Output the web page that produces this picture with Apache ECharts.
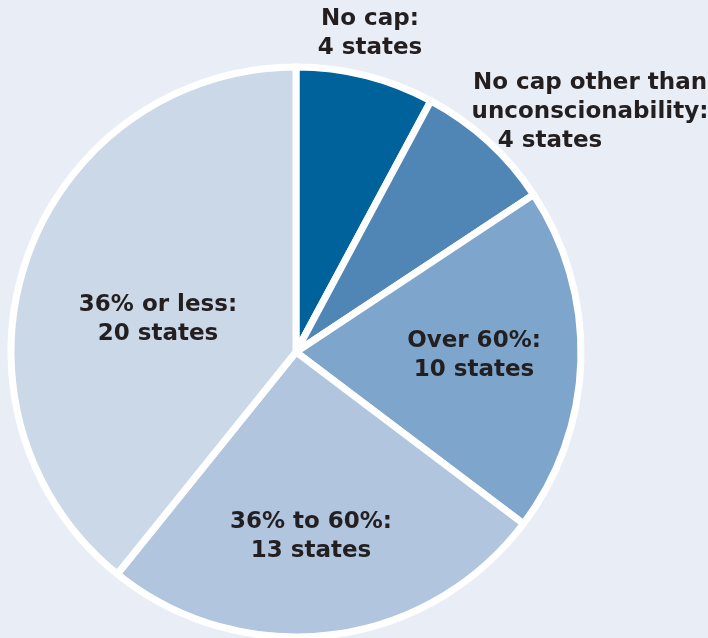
<!DOCTYPE html>
<html>
<head>
<meta charset="utf-8">
<script src="https://cdn.jsdelivr.net/npm/echarts@6/dist/echarts.min.js"></script>
<style>
  html, body { margin: 0; padding: 0; background: #e9eef6; }
  #chart { width: 708px; height: 638px; }
</style>
</head>
<body>
<div id="chart"></div>
<script>
// state counts by cap on payday loan rates
var categories = ['No cap:', 'No cap other than\nunconscionability:', 'Over 60%:', '36% to 60%:', '36% or less:'];
var stateCounts = [4, 4, 10, 13, 20];
var sliceColors = ['#00629b', '#4f86b6', '#7ea5cb', '#b1c5de', '#cbd8e8'];

// where each label sits (centre of the text block)
var labelSpots = [[370, 34], [590, 112], [474, 356], [311, 537], [158, 320]];

const buildOption = () => {
    return {
        backgroundColor: '#e9eef6',
        animation: false,
        series: [
            {
                type: 'pie',
                center: [296, 352],
                radius: [0, 285],
                startAngle: 90,
                clockwise: true,
                avoidLabelOverlap: false,
                itemStyle: {
                    borderColor: '#ffffff',
                    borderWidth: 7
                },
                label: {
                    show: true,
                    position: 'inside',
                    fontFamily: 'DejaVu Sans',
                    fontWeight: 'bold',
                    fontSize: 23,
                    lineHeight: 29,
                    color: '#231f20',
                    align: 'center',
                    formatter: function (p) {
                        var tail = p.dataIndex === 1 ? '          ' : '';
                        return p.name + '\n' + p.value + ' states' + tail;
                    }
                },
                labelLine: { show: false },
                labelLayout: function (params) {
                    var spot = labelSpots[params.dataIndex];
                    return {
                        x: spot[0],
                        y: spot[1],
                        align: 'center',
                        verticalAlign: 'middle'
                    };
                },
                emphasis: { disabled: true },
                data: categories.map(function (name, i) {
                    return {
                        name: name,
                        value: stateCounts[i],
                        itemStyle: { color: sliceColors[i] }
                    };
                })
            }
        ]
    };
};

window.addEventListener('load', () => {
    const chart = echarts.init(document.getElementById('chart'), null, { renderer: 'canvas' });
    chart.setOption(buildOption());
});
</script>
</body>
</html>
